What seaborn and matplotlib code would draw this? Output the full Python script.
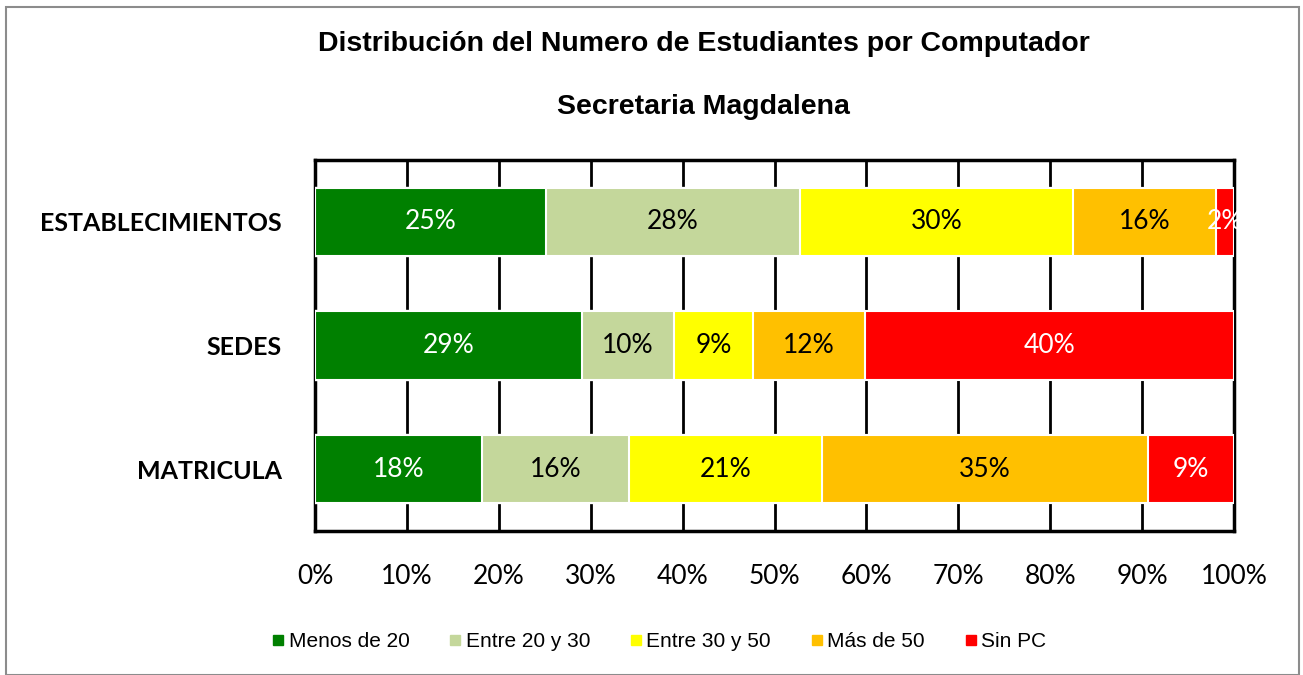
import numpy as np
import pandas as pd
import matplotlib.pyplot as plt
import seaborn as sns
from matplotlib.lines import Line2D
from matplotlib.patches import Rectangle

categorias = ['ESTABLECIMIENTOS', 'SEDES', 'MATRICULA']
series = ['Menos de 20', 'Entre 20 y 30', 'Entre 30 y 50', 'Más de 50', 'Sin PC']
menos_20 = [25.1, 29.0, 18.2]
entre_20_30 = [27.7, 10.1, 16.0]
entre_30_50 = [29.7, 8.6, 21.0]
mas_50 = [15.6, 12.1, 35.4]
sin_pc = [1.9, 40.2, 9.4]
colores = ['#008000', '#C4D79B', '#FFFF00', '#FFC000', '#FF0000']
color_texto = ['white', 'black', 'black', 'black', 'white']
ticks = np.arange(0, 101, 10)

df = pd.DataFrame(dict(zip(series, [menos_20, entre_20_30, entre_30_50, mas_50, sin_pc])),
                  index=categorias)
pct = df.div(df.sum(axis=1), axis=0) * 100
acum = pct.cumsum(axis=1)
datos = acum.reset_index(names='cat')

sns.set_style('white')
plt.rcParams['font.family'] = ['Lato', 'DejaVu Sans']
plt.rcParams['text.color'] = 'black'
plt.rcParams['xtick.color'] = 'black'
plt.rcParams['ytick.color'] = 'black'

fig = plt.figure(figsize=(13.03, 6.75), dpi=100)
ax = fig.add_axes([0.2418, 0.2133, 0.7052, 0.5497])

# barras acumuladas superpuestas, de la mas larga a la mas corta
for s, c in reversed(list(zip(series, colores))):
    sns.barplot(data=datos, x=s, y='cat', orient='h', color=c, saturation=1,
                width=0.55, edgecolor='white', linewidth=1.5, ax=ax, zorder=3)

for j, s in enumerate(series):
    for i, cat in enumerate(categorias):
        centro = acum.loc[cat, s] - pct.loc[cat, s] / 2
        ax.text(centro, i, f'{round(pct.loc[cat, s]):.0f}%', ha='center', va='center',
                fontsize=19, color=color_texto[j], zorder=4)

ax.set_xlim(0, 100)
ax.set_ylim(2.5, -0.5)
ax.set_xticks(ticks)
ax.set_xticklabels([f'{t}%' for t in ticks])
ax.set_xlabel('')
ax.set_ylabel('')
ax.set_axisbelow(True)
ax.xaxis.grid(True, color='black', linewidth=2, zorder=0)
ax.yaxis.grid(False)
ax.tick_params(axis='x', length=0, pad=24, labelsize=19, labelcolor='black')
ax.tick_params(axis='y', length=0, pad=24, labelsize=18, labelcolor='black')
for lab in ax.get_yticklabels():
    lab.set_fontweight('bold')
for sp in ax.spines.values():
    sp.set_visible(True)
    sp.set_color('black')
    sp.set_linewidth(2.5)

fig.text(0.540, 0.935, 'Distribución del Numero de Estudiantes por Computador',
         ha='center', va='center', fontsize=20.5, fontweight='bold', family='Liberation Sans')
fig.text(0.540, 0.841, 'Secretaria Magdalena', ha='center', va='center',
         fontsize=20.5, fontweight='bold', family='Liberation Sans')

handles = [Line2D([], [], marker='s', linestyle='', color=c, markersize=6.5) for c in colores]
fig.legend(handles, series, loc='center', bbox_to_anchor=(0.505, 0.049), ncol=5,
           frameon=False, handletextpad=0.1, columnspacing=1.8, handlelength=0.8,
           prop={'family': 'Liberation Sans', 'size': 15})

fig.patches.append(Rectangle((0.0046, 0.0), 0.9927, 0.9896, transform=fig.transFigure,
                             fill=False, edgecolor='#8c8c8c', linewidth=1.5))

fig.savefig('out.png', dpi=100)
